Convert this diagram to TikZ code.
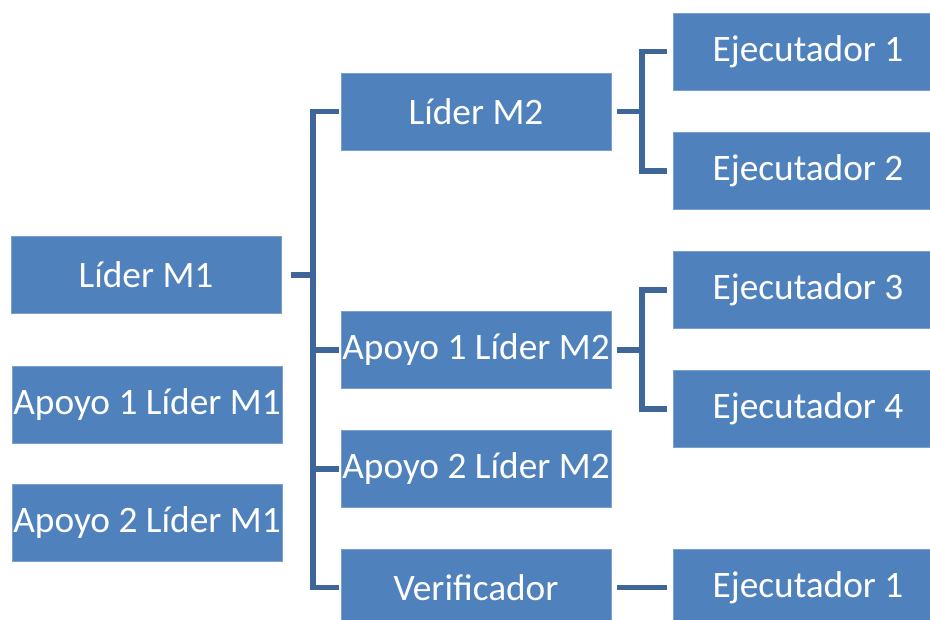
\documentclass[tikz,border=0pt]{standalone}
\usepackage{fontspec}
\setmainfont{Carlito}

\definecolor{boxblue}{HTML}{4F81BD}
\definecolor{linkblue}{HTML}{3E6698}

\begin{document}
\begin{tikzpicture}[
    x=0.75pt, y=-0.75pt,
    role/.style={fill=boxblue, draw=boxblue!75!white, line width=0.6pt,
        text=white, minimum width=202.5pt, minimum height=57.75pt,
        inner sep=0pt, font=\fontsize{28}{33}\selectfont},
    link/.style={draw=linkblue, line width=4pt}
]

\clip (0,0) rectangle (930,620);
\fill[white] (0,0) rectangle (930,620);

% first level
\node[role] (lm1) at (146,275) {Líder M1};
\node[role] (a1m1) at (147,404.5) {Apoyo 1 Líder M1};
\node[role] (a2m1) at (147,522.5) {Apoyo 2 Líder M1};

% second level
\node[role] (lm2) at (476,111.5) {Líder M2};
\node[role] (a1m2) at (476,350) {Apoyo 1 Líder M2};
\node[role] (a2m2) at (476,469) {Apoyo 2 Líder M2};
\node[role] (ver) at (476,587.5) {Verificador};

% executors
\node[role] (ej1) at (808,51.5) {Ejecutador 1};
\node[role] (ej2) at (808,171) {Ejecutador 2};
\node[role] (ej3) at (808,290) {Ejecutador 3};
\node[role] (ej4) at (808,409) {Ejecutador 4};
\node[role] (ej5) at (808,587.5) {Ejecutador 1};

\coordinate (busA) at (313,0);
\coordinate (busB) at (642,0);

\draw[link, shorten <=7.5pt] (lm1.east) -- (lm1.east -| busA);
\draw[link, shorten <=1.5pt, shorten >=1.5pt]
    (lm2.west) -- (lm2.west -| busA) -- (ver.west -| busA) -- (ver.west);
\foreach \n in {a1m2,a2m2}{
  \draw[link, shorten >=1.5pt] (\n.west -| busA) -- (\n.west);
}

\draw[link, shorten <=4.5pt] (lm2.east) -- (lm2.east -| busB);
\draw[link, shorten <=4.5pt, shorten >=4.5pt]
    (ej1.west) -- (ej1.west -| busB) -- (ej2.west -| busB) -- (ej2.west);

\draw[link, shorten <=4.5pt] (a1m2.east) -- (a1m2.east -| busB);
\draw[link, shorten <=4.5pt, shorten >=4.5pt]
    (ej3.west) -- (ej3.west -| busB) -- (ej4.west -| busB) -- (ej4.west);

\draw[link, shorten <=4.5pt, shorten >=4.5pt] (ver.east) -- (ej5.west);

\end{tikzpicture}
\end{document}
